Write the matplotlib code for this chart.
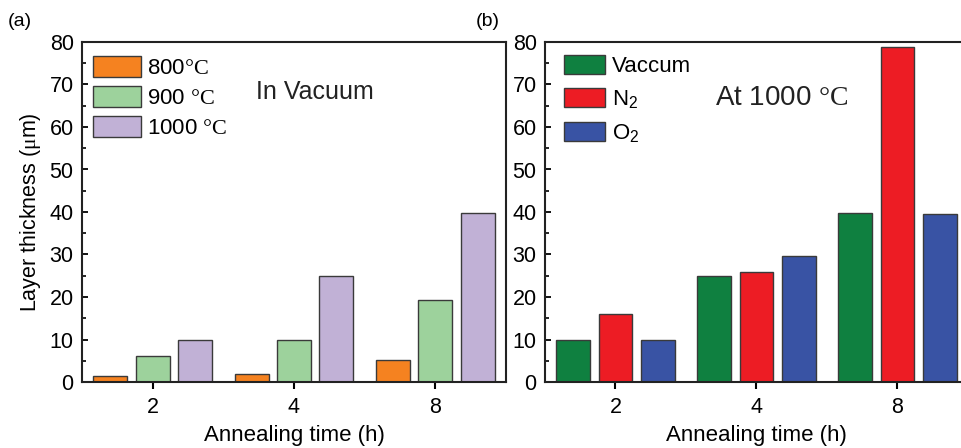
import numpy as np
import matplotlib.pyplot as plt
from matplotlib.ticker import MultipleLocator

plt.rcParams['font.family'] = ['Liberation Sans', 'DejaVu Sans']
plt.rcParams['mathtext.fontset'] = 'custom'
plt.rcParams['mathtext.rm'] = 'Liberation Serif'
plt.rcParams['mathtext.sf'] = 'Liberation Sans'

times = ['2', '4', '8']

# panel (a): vacuum, different temperatures
temp_labels = [r'800$\mathrm{°C}$', r'900 $\mathrm{°C}$', r'1000 $\mathrm{°C}$']
vac_800 = [1.4, 2.0, 5.2]
vac_900 = [6.1, 9.9, 19.2]
vac_1000 = [10.0, 24.9, 39.7]

# panel (b): 1000 C, different atmospheres
atm_labels = ['Vaccum', r'N$_{\mathsf{2}}$', r'O$_{\mathsf{2}}$']
atm_vac = [10.0, 24.9, 39.7]
atm_n2 = [16.1, 25.8, 78.8]
atm_o2 = [10.0, 29.6, 39.5]

col_a = ['#F58220', '#9DD29C', '#C1B1D6']
col_b = ['#0F8040', '#ED1C24', '#3953A4']

fig = plt.figure(figsize=(9.62, 4.48), dpi=100)
ax1 = fig.add_axes([82 / 962, 66 / 448, 424 / 962, 340 / 448])
ax2 = fig.add_axes([545 / 962, 66 / 448, 423 / 962, 340 / 448])

x = np.arange(len(times))
w = 0.24
off = 0.30


def draw(ax, series, labels, colors, hl, hh, sp, anchor):
    for i, (vals, lab, c) in enumerate(zip(series, labels, colors)):
        ax.bar(x + (i - 1) * off, vals, width=w, color=c, edgecolor='#3a3a3a',
               linewidth=1.0, label=lab)
    ax.set_xlim(-0.5, 2.5)
    ax.set_ylim(0, 80)
    ax.set_xticks(x)
    ax.set_xticklabels(times)
    ax.yaxis.set_major_locator(MultipleLocator(10))
    ax.yaxis.set_minor_locator(MultipleLocator(5))
    ax.tick_params(axis='y', which='major', direction='in', length=4.5, width=1.3,
                   labelsize=15.5, pad=6)
    ax.tick_params(axis='y', which='minor', direction='in', length=3, width=1.2)
    ax.tick_params(axis='x', direction='out', length=5, width=1.5, labelsize=15.5, pad=6)
    for s in ax.spines.values():
        s.set_linewidth(1.5)
        s.set_color('#222222')
    ax.set_xlabel('Annealing time (h)', fontsize=16, labelpad=5)
    ax.legend(loc='upper left', bbox_to_anchor=anchor, frameon=False, fontsize=16,
              handlelength=hl, handleheight=hh, labelspacing=sp, handletextpad=0.3,
              borderaxespad=0, borderpad=0)


draw(ax1, [vac_800, vac_900, vac_1000], temp_labels, col_a, 2.15, 1.05, 0.32,
     (11 / 424, 1 - 14 / 340))
draw(ax2, [atm_vac, atm_n2, atm_o2], atm_labels, col_b, 1.85, 0.95, 0.5,
     (19 / 423, 1 - 13 / 340))

ax1.set_ylabel(r'Layer thickness ($\mathrm{μ}$m)', fontsize=15.5, labelpad=5)

ax1.text(0.41, 0.832, 'In Vacuum', transform=ax1.transAxes, fontsize=18,
         color='#222222', va='baseline')
ax2.text(0.402, 0.815, r'At 1000 $\mathrm{°C}$', transform=ax2.transAxes, fontsize=20,
         color='#222222', va='baseline')

fig.text(8 / 962, 1 - 22 / 448, '(a)', fontsize=14, va='center')
fig.text(476 / 962, 1 - 22 / 448, '(b)', fontsize=14, va='center')

fig.savefig('out.png', dpi=100)
